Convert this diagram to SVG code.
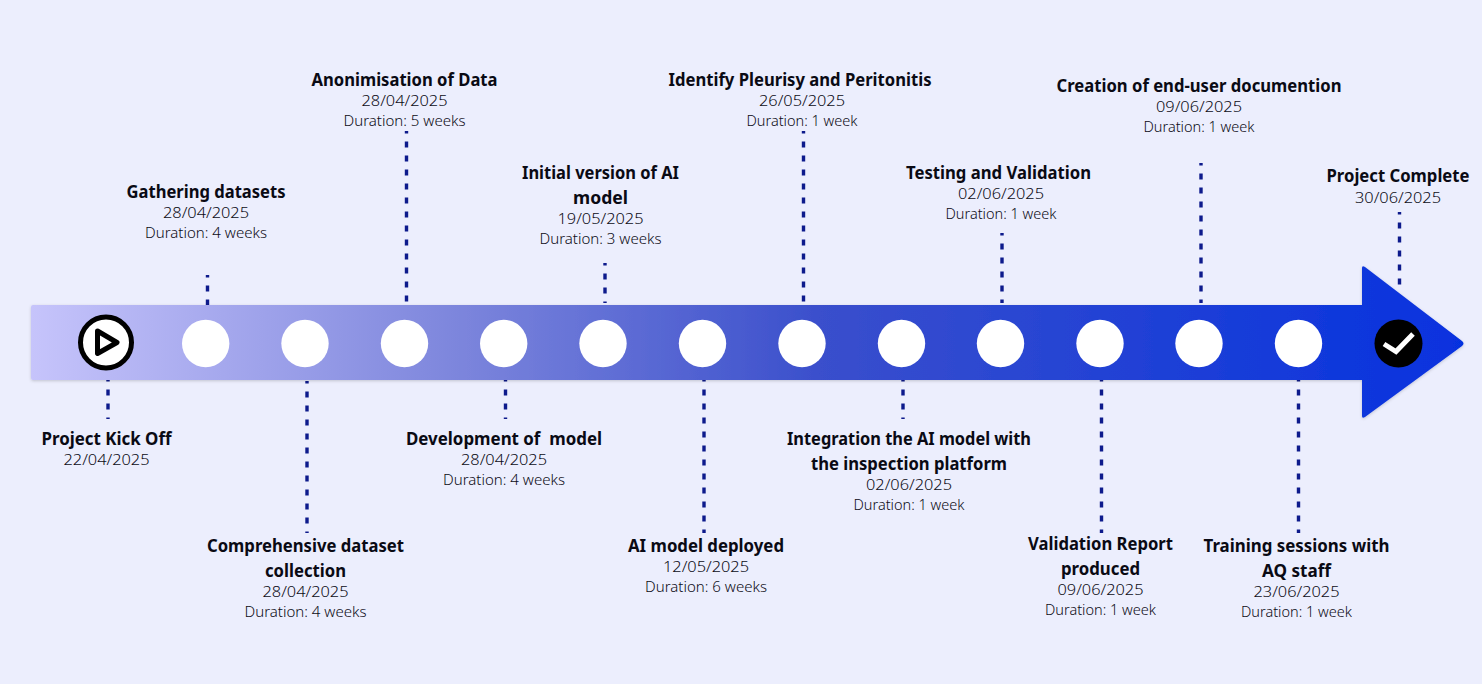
<svg xmlns="http://www.w3.org/2000/svg" width="1482" height="684" viewBox="0 0 1482 684">
<style>
.t{font-family:"Noto Sans","Liberation Sans",sans-serif;font-size:18px;font-weight:700;fill:#0a0a14;text-anchor:middle}
.s{font-family:"Noto Sans","Liberation Sans",sans-serif;font-size:15px;font-weight:300;fill:#0c0c16;text-anchor:middle}
.d{stroke:#0d1a8c;stroke-width:3.4;stroke-dasharray:6 8;stroke-dashoffset:3.4;fill:none}
.c{fill:#fff}
</style>
<defs>
<linearGradient id="g" gradientUnits="userSpaceOnUse" x1="31" y1="343" x2="1464" y2="343">
<stop offset="0" stop-color="#c6c4fb"/><stop offset="0.3" stop-color="#7c85dc"/><stop offset="0.55" stop-color="#3a4fcc"/><stop offset="1" stop-color="#0632df"/>
</linearGradient>
<filter id="sh" x="-2%" y="-5%" width="104%" height="110%"><feDropShadow dx="0" dy="1" stdDeviation="1.5" flood-color="#000" flood-opacity="0.18"/></filter>
</defs>
<rect width="1482" height="684" fill="#eceefd"/>
<g id="connectors">
<line class="d" x1="108" y1="379" x2="108" y2="419"/>
<line class="d" x1="207.500" y1="275" x2="207.500" y2="305"/>
<line class="d" x1="307" y1="381" x2="307" y2="533"/>
<line class="d" x1="406.500" y1="131" x2="406.500" y2="303"/>
<line class="d" x1="505.500" y1="379" x2="505.500" y2="419"/>
<line class="d" x1="605" y1="263" x2="605" y2="303"/>
<line class="d" x1="704" y1="379" x2="704" y2="533"/>
<line class="d" x1="803.500" y1="131" x2="803.500" y2="303"/>
<line class="d" x1="903" y1="379" x2="903" y2="419"/>
<line class="d" x1="1002" y1="233" x2="1002" y2="303"/>
<line class="d" x1="1101.500" y1="379" x2="1101.500" y2="533"/>
<line class="d" x1="1201" y1="163" x2="1201" y2="303"/>
<line class="d" x1="1298.500" y1="379" x2="1298.500" y2="533"/>
<line class="d" x1="1399.500" y1="212" x2="1399.500" y2="288"/>
</g>
<g id="arrow">
<path d="M33 305H1362V268Q1362 265 1365 267L1462 341Q1465 343.500 1462 346L1365 417Q1362 419 1362 416V380H33Q31 380 31 378V307Q31 305 33 305Z" fill="url(#g)" filter="url(#sh)"/>
</g>
<g id="n1"><circle cx="106" cy="342.500" r="25.500" fill="#fff" stroke="#000" stroke-width="5"/><path d="M97.500 331L117 342.500L97.500 353.500Z" fill="none" stroke="#000" stroke-width="5" stroke-linejoin="round"/>
<text class="t" x="106.500" y="445" textLength="130" lengthAdjust="spacingAndGlyphs">Project Kick Off</text><text class="s" x="106.500" y="465" textLength="86" lengthAdjust="spacingAndGlyphs">22/04/2025</text></g>
<g id="n2"><circle class="c" cx="205.700" cy="343.500" r="23.700"/>
<text class="t" x="206" y="198" textLength="159" lengthAdjust="spacingAndGlyphs">Gathering datasets</text><text class="s" x="206" y="218" textLength="86" lengthAdjust="spacingAndGlyphs">28/04/2025</text><text class="s" x="206" y="238" textLength="122" lengthAdjust="spacingAndGlyphs">Duration: 4 weeks</text></g>
<g id="n3"><circle class="c" cx="305" cy="343.500" r="23.700"/>
<text class="t" x="305.500" y="552" textLength="197" lengthAdjust="spacingAndGlyphs">Comprehensive dataset</text><text class="t" x="305.500" y="577" textLength="81" lengthAdjust="spacingAndGlyphs">collection</text><text class="s" x="305.500" y="597" textLength="86" lengthAdjust="spacingAndGlyphs">28/04/2025</text><text class="s" x="305.500" y="617" textLength="122" lengthAdjust="spacingAndGlyphs">Duration: 4 weeks</text></g>
<g id="n4"><circle class="c" cx="404.500" cy="343.500" r="23.700"/>
<text class="t" x="404.500" y="86" textLength="186" lengthAdjust="spacingAndGlyphs">Anonimisation of Data</text><text class="s" x="404.500" y="106" textLength="86" lengthAdjust="spacingAndGlyphs">28/04/2025</text><text class="s" x="404.500" y="126" textLength="122" lengthAdjust="spacingAndGlyphs">Duration: 5 weeks</text></g>
<g id="n5"><circle class="c" cx="503.700" cy="343.500" r="23.700"/>
<text class="t" x="504" y="445" textLength="196" lengthAdjust="spacingAndGlyphs" xml:space="preserve">Development of  model</text><text class="s" x="504" y="465" textLength="86" lengthAdjust="spacingAndGlyphs">28/04/2025</text><text class="s" x="504" y="485" textLength="122" lengthAdjust="spacingAndGlyphs">Duration: 4 weeks</text></g>
<g id="n6"><circle class="c" cx="603" cy="343.500" r="23.700"/>
<text class="t" x="600.500" y="179" textLength="157" lengthAdjust="spacingAndGlyphs">Initial version of AI</text><text class="t" x="600.500" y="204" textLength="55" lengthAdjust="spacingAndGlyphs">model</text><text class="s" x="600.500" y="224" textLength="86" lengthAdjust="spacingAndGlyphs">19/05/2025</text><text class="s" x="600.500" y="244" textLength="122" lengthAdjust="spacingAndGlyphs">Duration: 3 weeks</text></g>
<g id="n7"><circle class="c" cx="702.500" cy="343.500" r="23.700"/>
<text class="t" x="706" y="552" textLength="156" lengthAdjust="spacingAndGlyphs">AI model deployed</text><text class="s" x="706" y="572" textLength="86" lengthAdjust="spacingAndGlyphs">12/05/2025</text><text class="s" x="706" y="592" textLength="122" lengthAdjust="spacingAndGlyphs">Duration: 6 weeks</text></g>
<g id="n8"><circle class="c" cx="802" cy="343.500" r="23.700"/>
<text class="t" x="800" y="86" textLength="263" lengthAdjust="spacingAndGlyphs">Identify Pleurisy and Peritonitis</text><text class="s" x="802" y="106" textLength="86" lengthAdjust="spacingAndGlyphs">26/05/2025</text><text class="s" x="802" y="126" textLength="111" lengthAdjust="spacingAndGlyphs">Duration: 1 week</text></g>
<g id="n9"><circle class="c" cx="901.500" cy="343.500" r="23.700"/>
<text class="t" x="909" y="445" textLength="244" lengthAdjust="spacingAndGlyphs">Integration the AI model with</text><text class="t" x="909" y="470" textLength="196" lengthAdjust="spacingAndGlyphs">the inspection platform</text><text class="s" x="909" y="490" textLength="86" lengthAdjust="spacingAndGlyphs">02/06/2025</text><text class="s" x="909" y="510" textLength="111" lengthAdjust="spacingAndGlyphs">Duration: 1 week</text></g>
<g id="n10"><circle class="c" cx="1000.500" cy="343.500" r="23.700"/>
<text class="t" x="998.500" y="179" textLength="185" lengthAdjust="spacingAndGlyphs">Testing and Validation</text><text class="s" x="1001" y="199" textLength="86" lengthAdjust="spacingAndGlyphs">02/06/2025</text><text class="s" x="1001" y="219" textLength="111" lengthAdjust="spacingAndGlyphs">Duration: 1 week</text></g>
<g id="n11"><circle class="c" cx="1100" cy="343.500" r="23.700"/>
<text class="t" x="1100.500" y="550" textLength="145" lengthAdjust="spacingAndGlyphs">Validation Report</text><text class="t" x="1100.500" y="575" textLength="79" lengthAdjust="spacingAndGlyphs">produced</text><text class="s" x="1100.500" y="595" textLength="86" lengthAdjust="spacingAndGlyphs">09/06/2025</text><text class="s" x="1100.500" y="615" textLength="111" lengthAdjust="spacingAndGlyphs">Duration: 1 week</text></g>
<g id="n12"><circle class="c" cx="1199" cy="343.500" r="23.700"/>
<text class="t" x="1199" y="92" textLength="285" lengthAdjust="spacingAndGlyphs">Creation of end-user documention</text><text class="s" x="1199" y="112" textLength="86" lengthAdjust="spacingAndGlyphs">09/06/2025</text><text class="s" x="1199" y="132" textLength="111" lengthAdjust="spacingAndGlyphs">Duration: 1 week</text></g>
<g id="n13"><circle class="c" cx="1298.500" cy="343.500" r="23.700"/>
<text class="t" x="1296.500" y="552" textLength="186" lengthAdjust="spacingAndGlyphs">Training sessions with</text><text class="t" x="1296.500" y="577" textLength="69" lengthAdjust="spacingAndGlyphs">AQ staff</text><text class="s" x="1296.500" y="597" textLength="86" lengthAdjust="spacingAndGlyphs">23/06/2025</text><text class="s" x="1296.500" y="617" textLength="111" lengthAdjust="spacingAndGlyphs">Duration: 1 week</text></g>
<g id="n14"><circle cx="1398.500" cy="343.500" r="24" fill="#000"/><path d="M1384 344L1396 351.500L1413 334" fill="none" stroke="#fff" stroke-width="5"/>
<text class="t" x="1398" y="182" textLength="143" lengthAdjust="spacingAndGlyphs">Project Complete</text><text class="s" x="1398" y="203" textLength="86" lengthAdjust="spacingAndGlyphs">30/06/2025</text></g>
</svg>
